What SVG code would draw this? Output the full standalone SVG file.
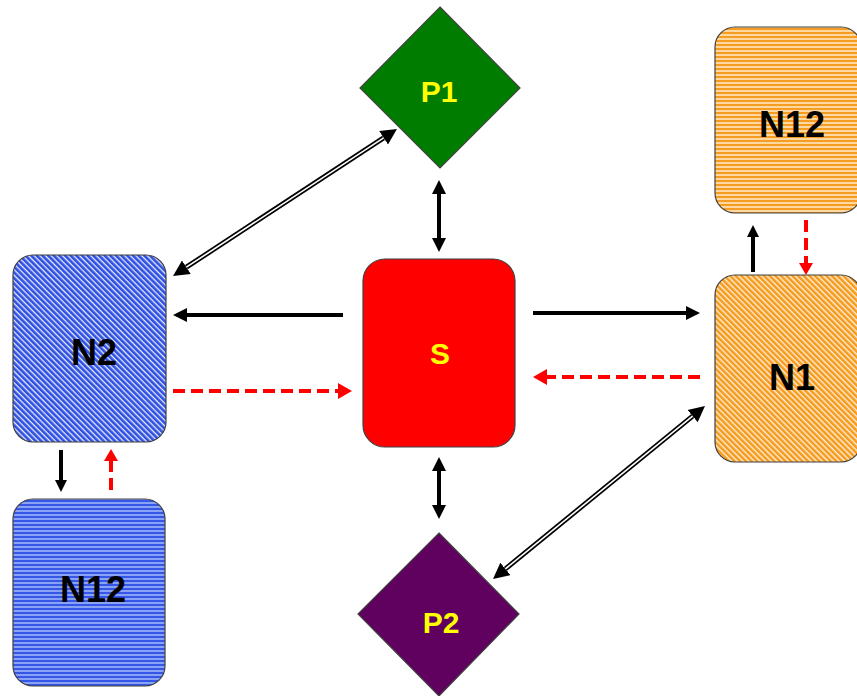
<svg xmlns="http://www.w3.org/2000/svg" width="857" height="696" viewBox="0 0 857 696">
<style>
.box{stroke:#404040;stroke-width:1.2}
.lbl{font-family:"Liberation Sans",Arial,sans-serif;font-weight:bold;text-anchor:middle}
.big{font-size:36px;fill:#000}
.yel{font-size:30px;fill:#ffff00}
.blk{stroke:#000;stroke-width:4;fill:none}
.red{stroke:#ff0000;stroke-width:4;fill:none;stroke-dasharray:12 6}
.dbo{stroke:#000;stroke-width:5;fill:none}
.dbi{stroke:#fff;stroke-width:1.6;fill:none}
</style>
<defs>
<pattern id="blueDiag" patternUnits="userSpaceOnUse" width="4" height="4" patternTransform="rotate(-45)">
<rect width="4" height="4" fill="#e8edff"/><rect width="2.7" height="4" fill="#2f50e0"/>
</pattern>
<pattern id="orangeDiag" patternUnits="userSpaceOnUse" width="4" height="4" patternTransform="rotate(-45)">
<rect width="4" height="4" fill="#fff0da"/><rect width="2.6" height="4" fill="#f59a1c"/>
</pattern>
<pattern id="blueHor" patternUnits="userSpaceOnUse" width="4" height="4">
<rect width="4" height="4" fill="#8aa2f4"/><rect width="4" height="2" fill="#3556e6"/>
</pattern>
<pattern id="orangeHor" patternUnits="userSpaceOnUse" width="4" height="4">
<rect width="4" height="4" fill="#fdd8a0"/><rect width="4" height="2" fill="#f59d22"/>
</pattern>
<marker id="hb" markerUnits="userSpaceOnUse" markerWidth="16" markerHeight="16" refX="0" refY="8" orient="auto-start-reverse" viewBox="0 0 16 16">
<path d="M0,1 L14,8 L0,15 Z" fill="#000"/>
</marker>
<marker id="hs" markerUnits="userSpaceOnUse" markerWidth="14" markerHeight="14" refX="0" refY="7" orient="auto-start-reverse" viewBox="0 0 14 14">
<path d="M0,1 L12,7 L0,13 Z" fill="#000"/>
</marker>
<marker id="hr" markerUnits="userSpaceOnUse" markerWidth="16" markerHeight="18" refX="0" refY="9" orient="auto-start-reverse" viewBox="0 0 16 18">
<path d="M0,1 L14,9 L0,17 Z" fill="#ff0000"/>
</marker>
<marker id="hrs" markerUnits="userSpaceOnUse" markerWidth="14" markerHeight="16" refX="0" refY="8" orient="auto-start-reverse" viewBox="0 0 14 16">
<path d="M0,1 L12,8 L0,15 Z" fill="#ff0000"/>
</marker>
<marker id="hd" markerUnits="userSpaceOnUse" markerWidth="18" markerHeight="18" refX="0" refY="9" orient="auto-start-reverse" viewBox="0 0 18 18">
<path d="M0,1 L16,9 L0,17 Z" fill="#000"/>
</marker>
</defs>

<g id="P1">
<polygon class="box" points="440,7 520,88 440,168 360,88" fill="#007d00" stroke="#1a1a1a"/>
<text class="lbl yel" x="439" y="102">P1</text>
</g>
<g id="P2">
<polygon class="box" points="439,533 519,614 439,696 358,614" fill="#60005f" stroke="#1a1a1a"/>
<text class="lbl yel" x="441" y="633">P2</text>
</g>
<g id="S">
<rect class="box" x="363" y="259" width="152" height="188" rx="22" fill="#ff0000"/>
<text class="lbl yel" x="440" y="364">S</text>
</g>
<g id="N2">
<rect class="box" x="13" y="255" width="153" height="187" rx="20" fill="url(#blueDiag)"/>
<text class="lbl big" x="94" y="365">N2</text>
</g>
<g id="N12_bottom">
<rect class="box" x="13" y="499" width="152" height="187" rx="20" fill="url(#blueHor)"/>
<text class="lbl big" x="93" y="602">N12</text>
</g>
<g id="N12_top">
<rect class="box" x="715" y="27" width="146" height="186" rx="20" fill="url(#orangeHor)"/>
<text class="lbl big" x="792" y="137">N12</text>
</g>
<g id="N1">
<rect class="box" x="715" y="275" width="146" height="187" rx="20" fill="url(#orangeDiag)"/>
<text class="lbl big" x="792" y="390">N1</text>
</g>

<g id="connectors">
<path class="blk" d="M439,194 L439,238" marker-start="url(#hb)" marker-end="url(#hb)"/>
<path class="blk" d="M439,471 L439,505" marker-start="url(#hb)" marker-end="url(#hb)"/>
<path class="blk" d="M343,315 L187,315" marker-end="url(#hb)"/>
<path class="red" d="M173,391 L338,391" marker-end="url(#hr)"/>
<path class="blk" d="M533,313 L686,313" marker-end="url(#hb)"/>
<path class="red" d="M700,377 L547,377" marker-end="url(#hr)"/>
<path class="blk" d="M61,450 L61,480" marker-end="url(#hs)"/>
<path class="red" d="M111,490 L111,461" marker-end="url(#hrs)"/>
<path class="blk" d="M753,272 L753,237" marker-end="url(#hs)"/>
<path class="red" d="M806,220 L806,263" marker-end="url(#hrs)"/>
<path class="dbo" d="M186.4,267.2 L383.6,137.8" marker-start="url(#hd)" marker-end="url(#hd)"/>
<path class="dbi" d="M186.4,267.2 L383.6,137.8"/>
<path class="dbo" d="M692.6,416.1 L505.4,568.9" marker-start="url(#hd)" marker-end="url(#hd)"/>
<path class="dbi" d="M692.6,416.1 L505.4,568.9"/>
</g>
</svg>
